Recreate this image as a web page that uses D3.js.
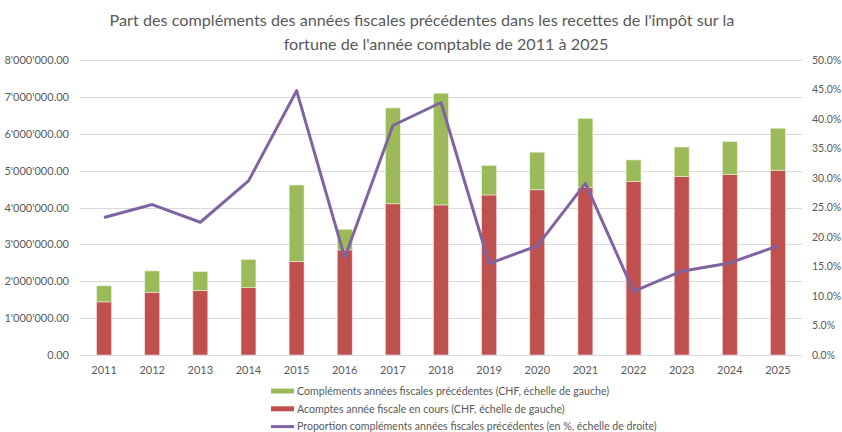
<!DOCTYPE html>
<html><head><meta charset="utf-8">
<script src="https://cdn.jsdelivr.net/npm/d3@7"></script>
<style>body{margin:0;background:#fff}svg{display:block}</style>
</head><body><svg id="c" width="842" height="432"></svg>
<script>
const years = ["2011","2012","2013","2014","2015","2016","2017","2018","2019","2020","2021","2022","2023","2024","2025"];
const acomptes = [1440000,1700000,1745000,1825000,2530000,2850000,4100000,4070000,4340000,4480000,4550000,4710000,4840000,4890000,5010000];
const complements = [435000,580000,515000,770000,2080000,560000,2600000,3030000,800000,1020000,1870000,580000,800000,900000,1140000];
const proportion = [0.233,0.255,0.225,0.295,0.448,0.165,0.389,0.428,0.155,0.185,0.291,0.108,0.142,0.156,0.185];
const leftTicks = [0,1000000,2000000,3000000,4000000,5000000,6000000,7000000,8000000];
const rightTicks = [0,0.05,0.1,0.15,0.2,0.25,0.3,0.35,0.4,0.45,0.5];
const titleLines = ["Part des compléments des années fiscales précédentes dans les recettes de l'impôt sur la","fortune de l'année comptable de 2011 à 2025"];
const legendLabels = ["Compléments années fiscales précédentes (CHF, échelle de gauche)","Acomptes année fiscale en cours (CHF, échelle de gauche)","Proportion compléments années fiscales précédentes (en %, échelle de droite)"];

const svg = d3.select("#c");
const font = "Lato, 'Open Sans', sans-serif";
const M = {l:80, r:802, t:60, b:355};
const x = d3.scaleBand().domain(years).range([M.l, M.r]).paddingInner(0.69).paddingOuter(0.345);
const y = d3.scaleLinear().domain([0,8000000]).range([M.b, M.t]);
const y2 = d3.scaleLinear().domain([0,0.5]).range([M.b, M.t]);
const loc = d3.formatLocale({decimal:".", thousands:"'", grouping:[3], currency:["",""]});
const fL = loc.format(",.2f");
const fR = d3.format(".1%");

// title
svg.append("g").selectAll("text").data(titleLines).join("text")
  .attr("x", (d,i)=> i===0 ? 422 : 446).attr("y",(d,i)=>26+i*24)
  .attr("text-anchor","middle").attr("font-family",font).attr("font-size",16.2)
  .attr("fill","#595959").text(d=>d);

// gridlines
svg.append("g").selectAll("line").data(leftTicks).join("line")
  .attr("x1",M.l).attr("x2",M.r).attr("y1",d=>Math.round(y(d))+0.5).attr("y2",d=>Math.round(y(d))+0.5)
  .attr("stroke","#d9d9d9").attr("stroke-width",1);

// left axis
const gl = svg.append("g").attr("transform",`translate(${M.l},0)`)
  .call(d3.axisLeft(y).tickValues(leftTicks).tickFormat(fL).tickSize(0).tickPadding(11));
gl.select(".domain").remove();
gl.selectAll("text").attr("font-family",font).attr("font-size",11).attr("fill","#595959");

// right axis
const gr = svg.append("g").attr("transform",`translate(${M.r},0)`)
  .call(d3.axisRight(y2).tickValues(rightTicks).tickFormat(fR).tickSize(0).tickPadding(10));
gr.select(".domain").remove();
gr.selectAll("text").attr("font-family",font).attr("font-size",10.5).attr("fill","#595959");

// x axis
const gx = svg.append("g").attr("transform",`translate(0,${M.b})`)
  .call(d3.axisBottom(x).tickSize(0).tickPadding(11));
gx.select(".domain").remove();
gx.selectAll("text").attr("font-family",font).attr("font-size",11).attr("fill","#595959");

// bars
const data = years.map((yr,i)=>({yr, a:acomptes[i], c:complements[i]}));
svg.append("g").selectAll("rect").data(data).join("rect")
  .attr("x",d=>x(d.yr)).attr("width",x.bandwidth())
  .attr("y",d=>y(d.a)).attr("height",d=>y(0)-y(d.a))
  .attr("fill","#C0504D").attr("stroke","#f2dcdb").attr("stroke-width",0.6);
svg.append("g").selectAll("rect").data(data).join("rect")
  .attr("x",d=>x(d.yr)).attr("width",x.bandwidth())
  .attr("y",d=>y(d.a+d.c)).attr("height",d=>y(d.a)-y(d.a+d.c))
  .attr("fill","#9BBB59").attr("stroke","#ebf1de").attr("stroke-width",0.6);

// line
const line = d3.line().x((d,i)=>x(years[i])+x.bandwidth()/2).y(d=>y2(d));
svg.append("path").datum(proportion).attr("d",line)
  .attr("fill","none").attr("stroke","#8064A2").attr("stroke-width",3).attr("stroke-linejoin","round");

// legend
const lg = svg.append("g");
const rows = [{t:"rect",c:"#9BBB59"},{t:"rect",c:"#C0504D"},{t:"line",c:"#8064A2"}];
rows.forEach((r,i)=>{
  const cy = 391 + i*17.8;
  if(r.t==="rect") lg.append("rect").attr("x",271).attr("y",cy-2.5).attr("width",23).attr("height",5).attr("fill",r.c);
  else lg.append("line").attr("x1",271).attr("x2",294).attr("y1",cy).attr("y2",cy).attr("stroke",r.c).attr("stroke-width",3);
  lg.append("text").attr("x",297).attr("y",cy).attr("dy","0.35em").attr("font-family",font)
    .attr("font-size",10.6).attr("fill","#595959").text(legendLabels[i]);
});
</script></body></html>
